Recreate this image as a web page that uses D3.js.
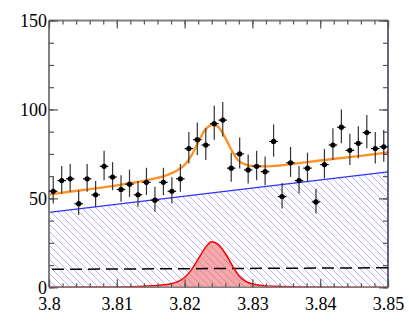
<!DOCTYPE html>
<html>
<head>
<meta charset="utf-8">
<script src="https://cdn.jsdelivr.net/npm/d3@7"></script>
<style>
  html, body { margin: 0; padding: 0; background: #fff; }
  svg { display: block; }
  .tick text { font-family: "Liberation Serif", "DejaVu Serif", serif; font-size: 18px; }
</style>
</head>
<body>
<svg id="chart" width="409" height="327"></svg>
<script>
// ---- data ----
const xDomain = [3.80, 3.85];
const yDomain = [0, 150];
const xMajorTicks = [3.80, 3.81, 3.82, 3.83, 3.84, 3.85];
const xTickLabels = ["3.8", "3.81", "3.82", "3.83", "3.84", "3.85"];
const yMajorTicks = [0, 50, 100, 150];
const yTickLabels = ["0", "50", "100", "150"];
const binWidth = 0.00125;
const binCenters = [3.800625,3.801875,3.803125,3.804375,3.805625,3.806875,3.808125,3.809375,3.810625,3.811875,
  3.813125,3.814375,3.815625,3.816875,3.818125,3.819375,3.820625,3.821875,3.823125,3.824375,
  3.825625,3.826875,3.828125,3.829375,3.830625,3.831875,3.833125,3.834375,3.835625,3.836875,
  3.838125,3.839375,3.840625,3.841875,3.843125,3.844375,3.845625,3.846875,3.848125,3.849375];
const counts = [54,60,61,47,61,52,68,62,55,58,
  52,59,49,59,54,61,78,83,80,92,
  94,67,75,66,68,65,82,51,70,60,
  67,48,69,80,90,77,81,87,78,79];
const errHigh = [7.87,8.26,8.33,7.37,8.33,7.73,8.76,8.39,7.93,8.13,
  7.73,8.20,7.52,8.20,7.87,8.33,9.35,9.62,9.46,10.10,
  10.21,8.70,9.17,8.64,8.76,8.58,9.57,7.66,8.88,8.26,
  8.70,7.45,8.82,9.46,10.00,9.29,9.51,9.84,9.35,9.40];
const errLow = [6.87,7.26,7.33,6.37,7.33,6.73,7.76,7.39,6.93,7.13,
  6.73,7.20,6.52,7.20,6.87,7.33,8.35,8.62,8.46,9.10,
  9.21,7.70,8.17,7.64,7.76,7.58,8.57,6.66,7.88,7.26,
  7.70,6.45,7.82,8.46,9.00,8.29,8.51,8.84,8.35,8.40];

// background (hatched) component
const bkgX = [3.80, 3.85];
const bkgY = [42.1, 64.9];
// flat (dashed) component
const flatX = [3.80, 3.85];
const flatY = [10.1, 11.0];
// signal component (red)
const sigX = [3.800,3.805,3.810,3.812,3.814,3.816,3.817,3.818,3.819,3.820,3.821,3.822,3.823,3.824,3.825,3.826,3.827,3.828,3.829,3.830,3.831,3.832,3.834,3.836,3.840,3.845,3.850];
const sigY = [0.05,0.1,0.2,0.35,0.6,1.0,1.4,2.0,3.2,5.5,9.8,15.8,22.0,25.6,24.0,19.0,12.5,6.5,3.3,1.9,1.2,0.8,0.5,0.3,0.15,0.08,0.05];
// total fit (orange)
const totX = [3.800,3.805,3.810,3.812,3.814,3.816,3.817,3.818,3.819,3.820,3.821,3.822,3.823,3.8242,3.825,3.826,3.827,3.828,3.829,3.830,3.832,3.834,3.836,3.840,3.845,3.850];
const totY = [52.2,54.7,57.3,58.5,59.8,61.5,62.5,64.0,66.0,68.8,74.0,81.5,88.5,91.4,90.0,84.0,76.5,71.0,69.0,68.2,68.0,68.5,69.4,71.3,73.5,75.8];

// ---- layout ----
const L = 49, R = 388, T = 20.5, B = 287.3;
const svg = d3.select("#chart");
const x = d3.scaleLinear().domain(xDomain).range([L, R]);
const y = d3.scaleLinear().domain(yDomain).range([B, T]);

const defs = svg.append("defs");
const pat = defs.append("pattern").attr("id", "hatch")
  .attr("patternUnits", "userSpaceOnUse").attr("width", 7).attr("height", 7);
pat.append("path").attr("d", "M-1,-1 L8,8 M-1,6 L1,8 M6,-1 L8,1")
  .attr("stroke", "#adadf4").attr("stroke-width", 0.9).attr("fill", "none");
defs.append("clipPath").attr("id", "clip").append("rect")
  .attr("x", L).attr("y", T).attr("width", R - L).attr("height", B - T);

const g = svg.append("g").attr("clip-path", "url(#clip)");

// hatched background area
const bkgPts = bkgX.map((v, i) => [v, bkgY[i]]);
g.append("path")
  .attr("d", d3.area().x(d => x(d[0])).y0(y(0)).y1(d => y(d[1]))(bkgPts))
  .attr("fill", "url(#hatch)");

// signal area
const sigPts = sigX.map((v, i) => [v, sigY[i]]);
g.append("path")
  .attr("d", d3.area().curve(d3.curveMonotoneX).x(d => x(d[0])).y0(y(0)).y1(d => y(d[1]))(sigPts))
  .attr("fill", "#f06060").attr("fill-opacity", 0.55);

// background line (blue)
g.append("path")
  .attr("d", d3.line().x(d => x(d[0])).y(d => y(d[1]))(bkgPts))
  .attr("fill", "none").attr("stroke", "#3030ff").attr("stroke-width", 1.1);

// dashed flat line
const flatPts = flatX.map((v, i) => [v, flatY[i]]);
g.append("path")
  .attr("d", d3.line().x(d => x(d[0])).y(d => y(d[1]))(flatPts))
  .attr("fill", "none").attr("stroke", "#000").attr("stroke-width", 1.5)
  .attr("stroke-dasharray", "12,6").attr("stroke-dashoffset", -3);

// total (orange)
const totPts = totX.map((v, i) => [v, totY[i]]);
g.append("path")
  .attr("d", d3.line().curve(d3.curveMonotoneX).x(d => x(d[0])).y(d => y(d[1]))(totPts))
  .attr("fill", "none").attr("stroke", "#ff9226").attr("stroke-width", 2.4);

// frame
const frame = svg.append("g");
frame.append("line").attr("x1", L).attr("x2", L).attr("y1", T).attr("y2", B).attr("stroke", "#808080").attr("stroke-width", 2);
frame.append("line").attr("x1", L).attr("x2", R).attr("y1", T).attr("y2", T).attr("stroke", "#808080").attr("stroke-width", 1.8);
frame.append("line").attr("x1", R).attr("x2", R).attr("y1", T).attr("y2", B).attr("stroke", "#000040").attr("stroke-width", 1.2);
frame.append("line").attr("x1", L).attr("x2", R).attr("y1", B).attr("y2", B).attr("stroke", "#808080").attr("stroke-width", 1.5);

// red signal line on top (incl. baseline)
g.append("path")
  .attr("d", d3.line().curve(d3.curveMonotoneX).x(d => x(d[0])).y(d => y(d[1]))(sigPts))
  .attr("fill", "none").attr("stroke", "#ff0000").attr("stroke-width", 1.5);

// ---- axes ----
const xMinor = d3.range(0, 26).map(i => 3.80 + i * 0.002);
const yMinor = d3.range(0, 13).map(i => i * 12.5);
const serif = "'Liberation Serif', 'DejaVu Serif', serif";

function styleAxis(sel) {
  sel.attr("font-family", serif).attr("font-size", 18);
  sel.select(".domain").remove();
  sel.selectAll("line").attr("stroke", "#555").attr("stroke-width", 1.2);
  sel.selectAll("text").attr("fill", "#000")
    .attr("font-family", serif).style("font-family", serif).style("font-size", "18px");
}
// bottom
svg.append("g").attr("transform", `translate(0,${B})`)
  .call(d3.axisBottom(x).tickValues(xMinor).tickSize(-4).tickFormat(""))
  .call(styleAxis);
svg.append("g").attr("transform", `translate(0,${B})`)
  .call(d3.axisBottom(x).tickValues(xMajorTicks).tickSize(-8).tickPadding(10)
    .tickFormat((d, i) => xTickLabels[i]))
  .call(styleAxis);
// top
svg.append("g").attr("transform", `translate(0,${T})`)
  .call(d3.axisTop(x).tickValues(xMinor).tickSize(-4).tickFormat(""))
  .call(styleAxis);
svg.append("g").attr("transform", `translate(0,${T})`)
  .call(d3.axisTop(x).tickValues(xMajorTicks).tickSize(-8).tickFormat(""))
  .call(styleAxis);
// left
svg.append("g").attr("transform", `translate(${L},0)`)
  .call(d3.axisLeft(y).tickValues(yMinor).tickSize(-5).tickFormat(""))
  .call(styleAxis);
svg.append("g").attr("transform", `translate(${L},0)`)
  .call(d3.axisLeft(y).tickValues(yMajorTicks).tickSize(-9).tickPadding(2)
    .tickFormat((d, i) => yTickLabels[i]))
  .call(styleAxis);
// right
svg.append("g").attr("transform", `translate(${R},0)`)
  .call(d3.axisRight(y).tickValues(yMinor).tickSize(-5).tickFormat(""))
  .call(styleAxis);
svg.append("g").attr("transform", `translate(${R},0)`)
  .call(d3.axisRight(y).tickValues(yMajorTicks).tickSize(-9).tickFormat(""))
  .call(styleAxis);

// ---- data points ----
const pts = svg.append("g");
counts.forEach((c, i) => {
  const cx = x(binCenters[i]), cy = y(c);
  pts.append("line").attr("x1", cx).attr("x2", cx)
    .attr("y1", y(c + errHigh[i])).attr("y2", y(c - errLow[i]))
    .attr("stroke", "#333").attr("stroke-width", 1.2);
  pts.append("line").attr("x1", x(binCenters[i] - binWidth / 2)).attr("x2", x(binCenters[i] + binWidth / 2))
    .attr("y1", cy).attr("y2", cy)
    .attr("stroke", "#000").attr("stroke-width", 1.2);
  pts.append("circle").attr("cx", cx).attr("cy", cy).attr("r", 2.6).attr("fill", "#000");
});
</script>
</body>
</html>
